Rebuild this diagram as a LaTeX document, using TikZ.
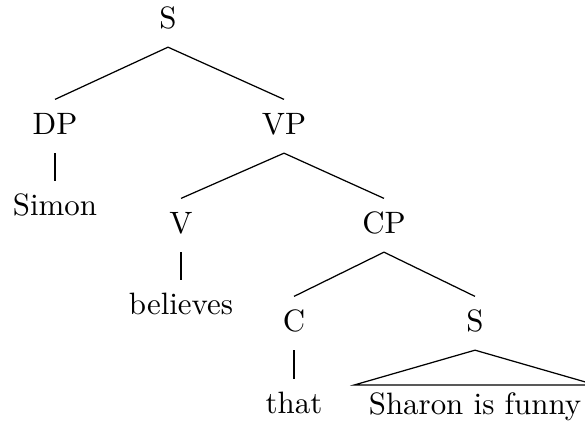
\documentclass[tikz,border=0pt]{standalone}
\usepackage{tikz}
\usetikzlibrary{positioning}

\tikzset{
  cat/.style={anchor=base, inner sep=0pt, text height=11pt, text depth=6pt},
  word/.style={anchor=base, inner sep=0pt, text height=10.8pt, text depth=2pt},
  roof/.style={anchor=base, inner ysep=0pt, inner xsep=4.5pt, text height=9.2pt, text depth=2pt}
}

\begin{document}
\begin{tikzpicture}[x=0.3236pt, y=-0.3236pt]
  \useasboundingbox (0,0) rectangle (585,432);

  \node[cat]  (s)   at (168,28)  {S};
  \node[cat]  (dp)  at (55,134)  {DP};
  \node[cat]  (vp)  at (284,134) {VP};
  \node[word] (simon) at (55,215) {Simon};
  \node[cat]  (v)   at (181,233) {V};
  \node[cat]  (cp)  at (384,233) {CP};
  \node[word] (believes) at (181,314) {believes};
  \node[cat]  (c)   at (294,331) {C};
  \node[cat]  (s2)  at (475,331) {S};
  \node[word] (that) at (294,413) {that};
  \node[roof] (sharon) at (475,414) {Sharon is funny};

  \draw (s.south) -- (dp.north);
  \draw (s.south) -- (vp.north);
  \draw (dp.south) -- (simon.north);
  \draw (vp.south) -- (v.north);
  \draw (vp.south) -- (cp.north);
  \draw (v.south) -- (believes.north);
  \draw (cp.south) -- (c.north);
  \draw (cp.south) -- (s2.north);
  \draw (c.south) -- (that.north);
  \draw (s2.south) -- (sharon.north west) -- (sharon.north east) -- cycle;
\end{tikzpicture}
\end{document}
